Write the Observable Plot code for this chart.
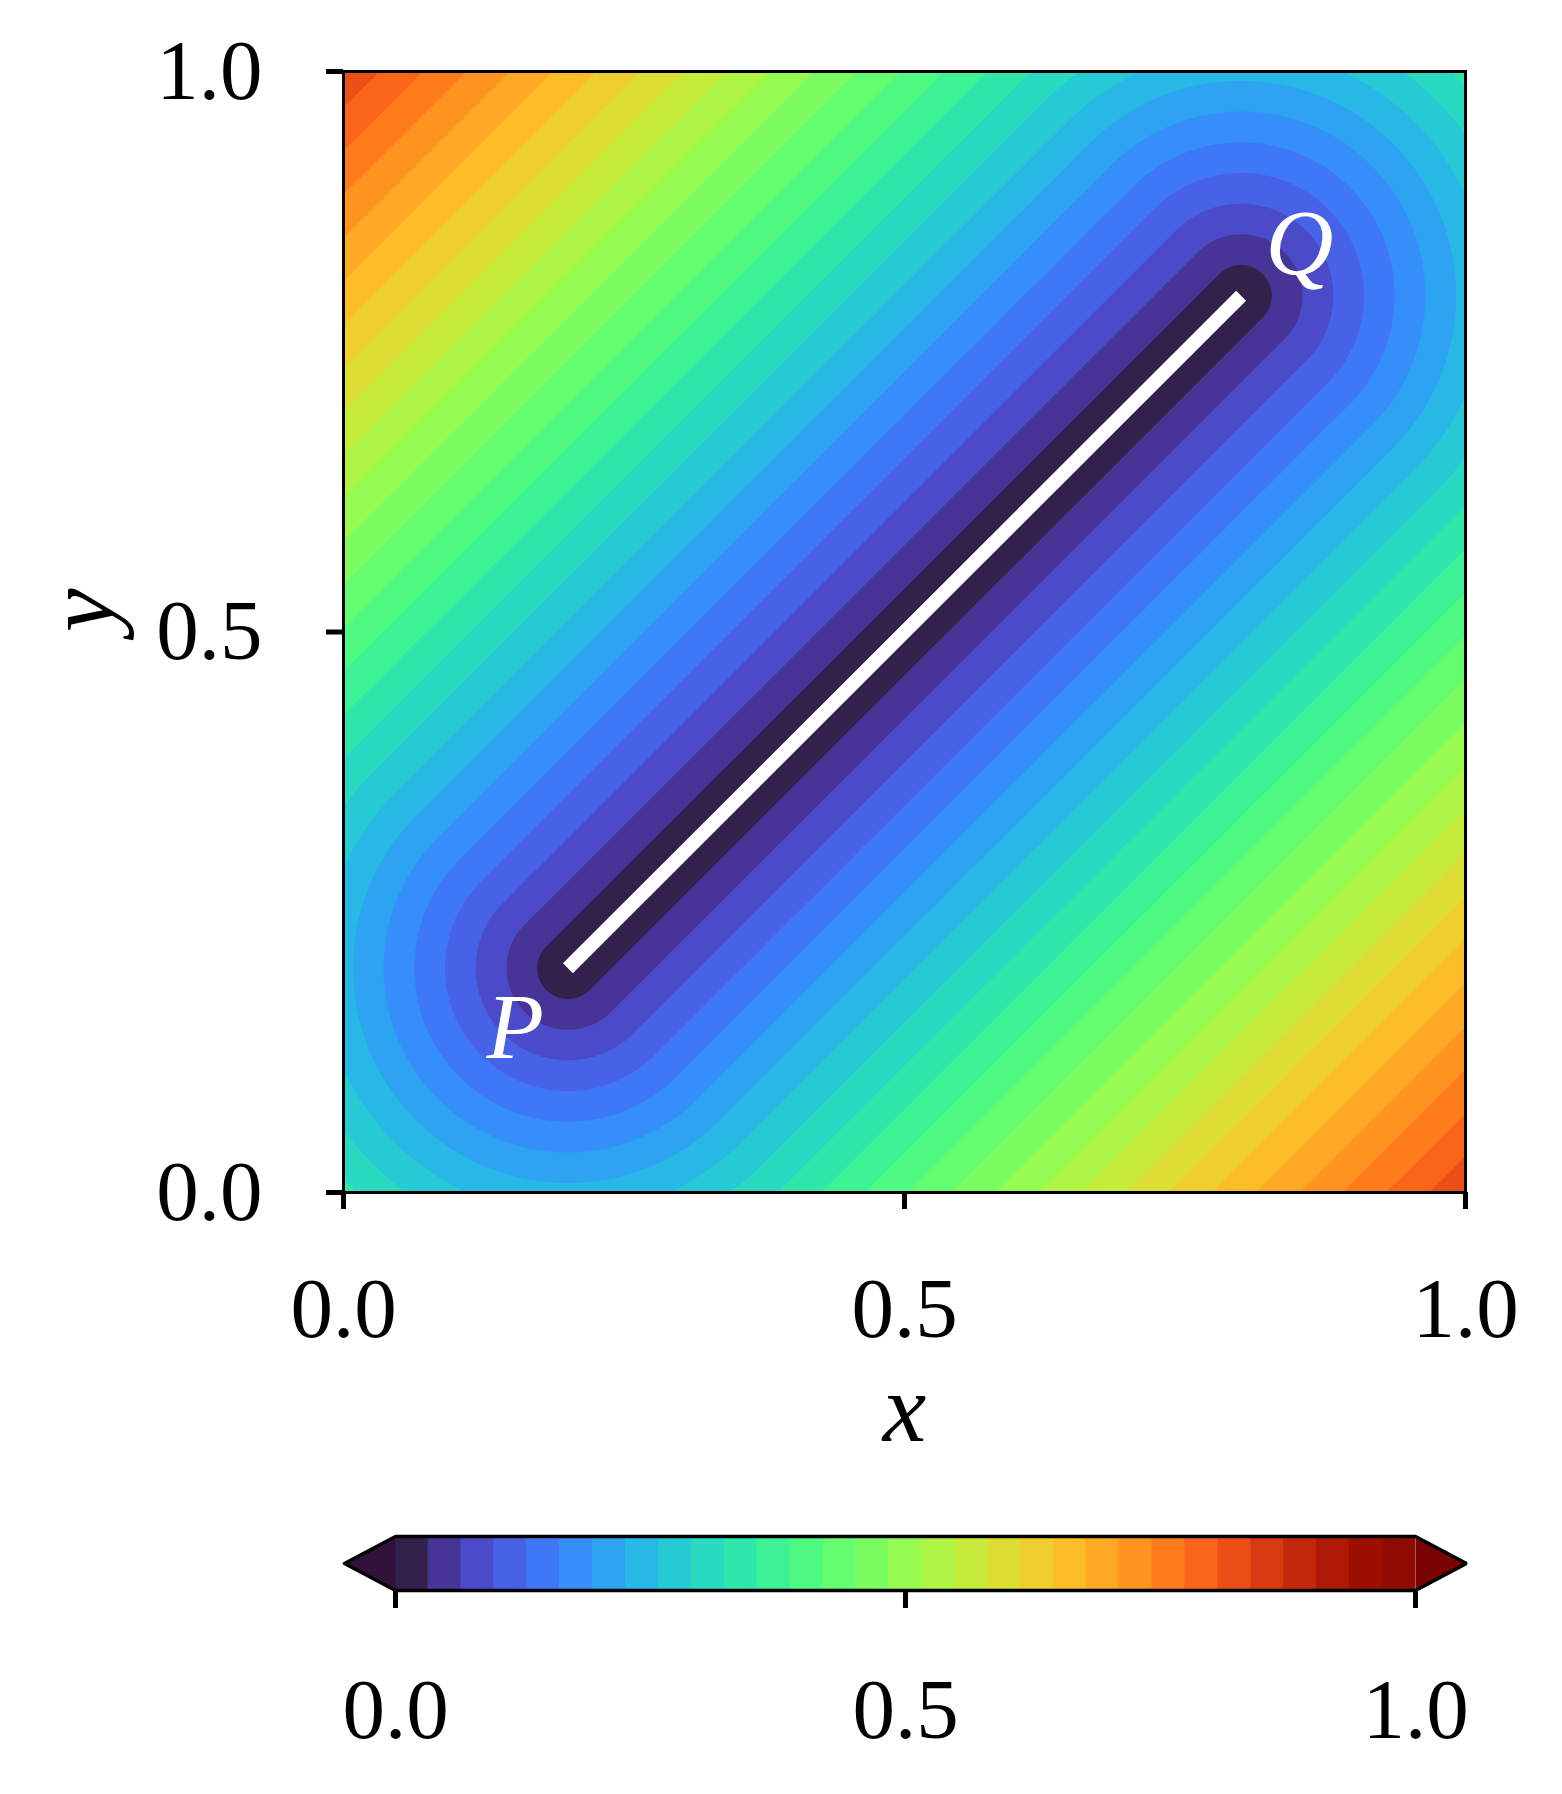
<!DOCTYPE html>
<html><head><meta charset="utf-8">
<script src="https://cdn.jsdelivr.net/npm/d3@7"></script>
<script src="https://cdn.jsdelivr.net/npm/@observablehq/plot@0.6"></script>
<style>
body{margin:0;background:#fff;}
#chart svg{display:block;}
</style></head><body><div id="chart"></div>
<script>
// ---- data ----
const segmentX = [0.2, 0.8];          // P.x, Q.x
const segmentY = [0.2, 0.8];          // P.y, Q.y
const pointLabels = ["P", "Q"];
const labelX = [0.153, 0.852];
const labelY = [0.147, 0.846];
const levelCount = 31;                // 32 contour levels from 0 to 1
const levels = d3.range(levelCount + 1).map(i => i / levelCount);
const axisTicks = [0, 0.5, 1];
const tickLabels = ["0.0", "0.5", "1.0"];
const extendColors = ["#30123b", "#7a0403"]; // under / over
const extendFrac = 0.05;
const gridSize = 500;

// distance to segment PQ, normalised by |PQ|
const [px, qx] = segmentX, [py, qy] = segmentY;
const ddx = qx - px, ddy = qy - py, L2 = ddx * ddx + ddy * ddy, L = Math.sqrt(L2);
function field(x, y) {
  let t = ((x - px) * ddx + (y - py) * ddy) / L2;
  t = Math.max(0, Math.min(1, t));
  return Math.hypot(x - (px + t * ddx), y - (py + t * ddy)) / L;
}
const values = new Float64Array(gridSize * gridSize);
for (let j = 0; j < gridSize; ++j)
  for (let i = 0; i < gridSize; ++i)
    values[j * gridSize + i] = field((i + 0.5) / gridSize, (j + 0.5) / gridSize);

const segment = segmentX.map((x, i) => ({x, y: segmentY[i]}));
const labels = pointLabels.map((t, i) => ({t, x: labelX[i], y: labelY[i]}));
const fmt = d => tickLabels[axisTicks.indexOf(d)];
const colorScale = {type: "linear", scheme: "turbo", domain: [-0.5 / levelCount, (levelCount - 0.5) / levelCount]};
const font = "'Liberation Serif', 'Times New Roman', serif";

const main = Plot.plot({
  width: 1562, height: 1480,
  marginLeft: 343, marginRight: 97, marginTop: 71, marginBottom: 288,
  style: {fontFamily: font, fontSize: "85px", background: "white", color: "black", overflow: "visible"},
  x: {domain: [0, 1]},
  y: {domain: [0, 1]},
  color: colorScale,
  marks: [
    Plot.contour(values, {x1: 0, y1: 0, x2: 1, y2: 1, width: gridSize, height: gridSize,
      fill: Plot.identity, thresholds: levels, stroke: "none"}),
    Plot.line(segment, {x: "x", y: "y", stroke: "white", strokeWidth: 14, strokeLinecap: "butt"}),
    Plot.text(labels, {x: "x", y: "y", text: "t", fill: "white", fontStyle: "italic", fontSize: 94}),
    Plot.frame({stroke: "black", strokeWidth: 3}),
    Plot.axisX(axisTicks, {tickSize: 17, tickPadding: 67, strokeWidth: 5, tickFormat: fmt, label: null, fontSize: 85}),
    Plot.axisY(axisTicks, {tickSize: 17, tickPadding: 64, strokeWidth: 5, tickFormat: fmt, label: null, fontSize: 85}),
    Plot.text(["x"], {x: () => 0.5, frameAnchor: "bottom", dy: 248, text: d => d, fontStyle: "italic", fontSize: 98}),
    Plot.text(["y"], {y: () => 0.5, frameAnchor: "left", dx: -262, rotate: -90, text: d => d, fontStyle: "italic", fontSize: 98})
  ]
});

// colorbar
const bins = d3.range(levelCount).map(i => ({x1: levels[i], x2: levels[i + 1], v: levels[i]}));
const tris = [
  {x: -extendFrac, y: 0.5, k: 0}, {x: 0, y: 1, k: 0}, {x: 0, y: 0, k: 0}, {x: -extendFrac, y: 0.5, k: 0},
  {x: 1 + extendFrac, y: 0.5, k: 1}, {x: 1, y: 1, k: 1}, {x: 1, y: 0, k: 1}, {x: 1 + extendFrac, y: 0.5, k: 1}
];
const outline = [
  {x: -extendFrac, y: 0.5}, {x: 0, y: 1}, {x: 1, y: 1}, {x: 1 + extendFrac, y: 0.5},
  {x: 1, y: 0}, {x: 0, y: 0}, {x: -extendFrac, y: 0.5}, {x: 0, y: 1}
];

const bar = Plot.plot({
  width: 1562, height: 314,
  marginLeft: 333.8, marginRight: 85.8, marginTop: 56, marginBottom: 204,
  style: {fontFamily: font, fontSize: "85px", background: "white", color: "black", overflow: "visible"},
  x: {domain: [-0.06, 1.06]},
  y: {domain: [0, 1], axis: null},
  color: colorScale,
  marks: [
    Plot.rect(bins, {x1: "x1", x2: "x2", y1: 0, y2: 1, fill: "v", inset: -0.3}),
    Plot.line(tris.filter(d => d.k === 0), {x: "x", y: "y", fill: extendColors[0], stroke: "none"}),
    Plot.line(tris.filter(d => d.k === 1), {x: "x", y: "y", fill: extendColors[1], stroke: "none"}),
    Plot.line(outline, {x: "x", y: "y", stroke: "black", strokeWidth: 3.5, strokeLinejoin: "miter", curve: "linear"}),
    Plot.axisX(axisTicks, {tickSize: 18, tickPadding: 69, strokeWidth: 5, tickFormat: fmt, label: null, fontSize: 85})
  ]
});

document.getElementById("chart").append(main, bar);
</script></body></html>
